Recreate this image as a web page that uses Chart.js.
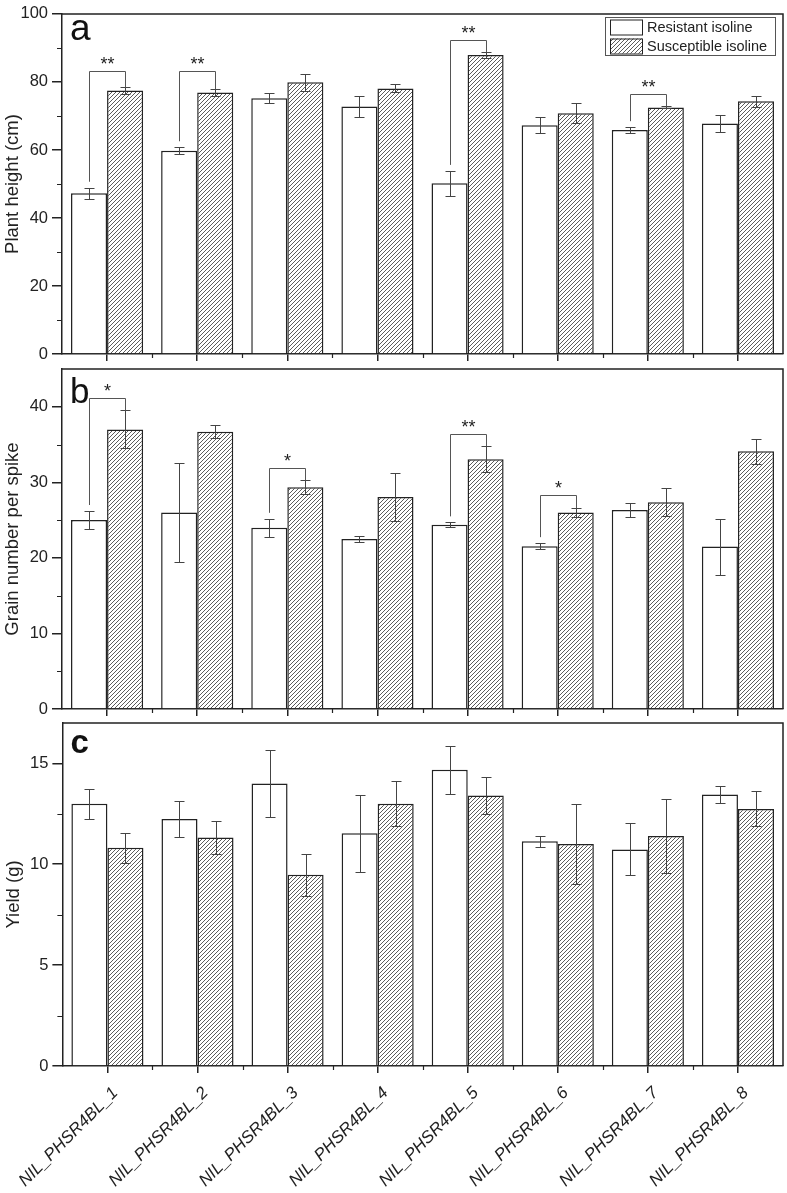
<!DOCTYPE html>
<html><head><meta charset="utf-8">
<script src="https://cdn.jsdelivr.net/npm/chart.js@4.4.0/dist/chart.umd.min.js"></script>
<style>
html,body{margin:0;padding:0;background:#fff;}
#wrap{position:relative;width:787px;height:1193px;overflow:hidden;background:#fff;}
.pane{position:absolute;left:0;width:787px;}
</style></head><body>
<div id="wrap">
  <div class="pane" style="top:0px;height:368px"><canvas id="ca" width="787" height="368"></canvas></div>
  <div class="pane" style="top:355px;height:368px"><canvas id="cb" width="787" height="368"></canvas></div>
  <div class="pane" style="top:709px;height:484px"><canvas id="cc" width="787" height="484"></canvas></div>
</div>
<script>
const categories = ['NIL_PHSR4BL_1','NIL_PHSR4BL_2','NIL_PHSR4BL_3','NIL_PHSR4BL_4','NIL_PHSR4BL_5','NIL_PHSR4BL_6','NIL_PHSR4BL_7','NIL_PHSR4BL_8'];
const seriesNames = ['Resistant isoline','Susceptible isoline'];

// Panel a: plant height (cm)
const heightRes    = [47.3, 59.8, 75.2, 72.8, 50.2, 67.3, 65.9, 67.8];
const heightResErr = [1.6, 1.0, 1.45, 3.1, 3.65, 2.25, 0.8, 2.55];
const heightSus    = [77.5, 76.9, 79.9, 78.1, 87.9, 70.8, 72.5, 74.3];
const heightSusErr = [0.9, 1.0, 2.55, 1.2, 0.8, 3.0, 0.3, 1.7];
const heightSig     = ['**','**','','','**','','**',''];
const heightBracket = [83.2, 83.2, null, null, 92.2, null, 76.4, null];

// Panel b: grain number per spike
const grainRes    = [25.0, 26.0, 24.0, 22.5, 24.4, 21.55, 26.35, 21.5];
const grainResErr = [1.2, 6.55, 1.17, 0.35, 0.3, 0.4, 0.9, 3.7];
const grainSus    = [37.0, 36.7, 29.35, 28.05, 33.05, 26.0, 27.35, 34.1];
const grainSusErr = [2.5, 0.9, 0.9, 3.2, 1.75, 0.6, 1.85, 1.65];
const grainSig     = ['*','','*','','**','*','',''];
const grainBracket = [41.2, null, 31.9, null, 36.4, 28.3, null, null];

// Panel c: yield (g)
const yieldRes    = [12.99, 12.24, 14.0, 11.53, 14.68, 11.14, 10.73, 13.45];
const yieldResErr = [0.74, 0.91, 1.67, 1.9, 1.2, 0.27, 1.29, 0.42];
const yieldSus    = [10.81, 11.32, 9.47, 13.0, 13.4, 11.0, 11.4, 12.74];
const yieldSusErr = [0.73, 0.8, 1.04, 1.12, 0.92, 1.98, 1.83, 0.87];
const yieldSig     = ['','','','','','','',''];
const yieldBracket = [null,null,null,null,null,null,null,null];

const FONT = '"Liberation Sans", Arial, sans-serif';
const DARK = '#222';

function hatchPattern() {
  const c = document.createElement('canvas');
  c.width = 4; c.height = 4;
  const g = c.getContext('2d');
  g.fillStyle = '#fff'; g.fillRect(0,0,4,4);
  g.strokeStyle = '#4a4a4a'; g.lineWidth = 0.9;
  g.beginPath();
  g.moveTo(-1,5); g.lineTo(5,-1);
  g.moveTo(-1,1); g.lineTo(1,-1);
  g.moveTo(3,5); g.lineTo(5,3);
  g.stroke();
  return g.createPattern(c, 'repeat');
}
const HATCH = hatchPattern();

const decor = {
  id: 'decor',
  afterDatasetsDraw(chart, args, o) {
    const ctx = chart.ctx;
    const a = chart.chartArea;
    const xs = chart.scales.x, ys = chart.scales.y;
    ctx.save();
    // frame top/right
    ctx.strokeStyle = DARK; ctx.lineWidth = 1.5;
    ctx.beginPath();
    ctx.moveTo(a.left, a.top); ctx.lineTo(a.right, a.top); ctx.lineTo(a.right, a.bottom);
    ctx.stroke();
    // minor y ticks
    ctx.lineWidth = 1.2;
    ctx.beginPath();
    for (let v = o.minor; v < ys.max; v += o.major) {
      const p = Math.round(ys.getPixelForValue(v)) + 0.5;
      ctx.moveTo(a.left - 5, p); ctx.lineTo(a.left, p);
    }
    // minor x ticks at category boundaries
    const sp = xs.getPixelForValue(1) - xs.getPixelForValue(0);
    for (let i = 1; i < categories.length; i++) {
      const p = Math.round(xs.getPixelForValue(i) - sp/2) + 0.5;
      ctx.moveTo(p, a.bottom); ctx.lineTo(p, a.bottom + 4);
    }
    ctx.stroke();
    // error bars
    const m0 = chart.getDatasetMeta(0), m1 = chart.getDatasetMeta(1);
    const vals = [o.v0, o.v1], errs = [o.e0, o.e1], metas = [m0, m1];
    ctx.strokeStyle = '#444'; ctx.lineWidth = 1;
    ctx.beginPath();
    for (let d = 0; d < 2; d++) {
      metas[d].data.forEach((bar, i) => {
        const x = Math.round(bar.x) + 0.5;
        const hi = Math.round(ys.getPixelForValue(vals[d][i] + errs[d][i])) + 0.5;
        const lo = Math.round(ys.getPixelForValue(vals[d][i] - errs[d][i])) + 0.5;
        ctx.moveTo(x, hi); ctx.lineTo(x, lo);
        ctx.moveTo(x - 5, hi); ctx.lineTo(x + 5, hi);
        ctx.moveTo(x - 5, lo); ctx.lineTo(x + 5, lo);
      });
    }
    ctx.stroke();
    // significance brackets
    ctx.strokeStyle = '#555'; ctx.lineWidth = 1;
    ctx.fillStyle = DARK;
    ctx.font = '18px ' + FONT;
    ctx.textAlign = 'center'; ctx.textBaseline = 'alphabetic';
    o.brk.forEach((top, i) => {
      if (top == null) return;
      const xl = Math.round(m0.data[i].x) + 0.5, xr = Math.round(m1.data[i].x) + 0.5;
      const yl = ys.getPixelForValue(o.v0[i] + o.e0[i]) - 6;
      const yr = ys.getPixelForValue(o.v1[i] + o.e1[i]);
      const yt = Math.round(ys.getPixelForValue(top)) + 0.5;
      ctx.beginPath();
      ctx.moveTo(xl, yl); ctx.lineTo(xl, yt); ctx.lineTo(xr, yt); ctx.lineTo(xr, yr);
      ctx.stroke();
      ctx.fillText(o.sig[i], (xl + xr) / 2, yt - 2);
    });
    // panel letter
    ctx.font = o.letterFont + ' ' + FONT;
    ctx.textAlign = 'left'; ctx.textBaseline = 'alphabetic';
    ctx.fillStyle = '#111';
    ctx.fillText(o.letter, a.left + 8, a.top + o.letterY);
    // legend
    if (o.legend) {
      const lx = 605, ly = 17, lw = 170, lh = 38;
      ctx.strokeStyle = '#555'; ctx.lineWidth = 1;
      ctx.strokeRect(lx + 0.5, ly + 0.5, lw, lh);
      const sw = [[610, 19.5], [610, 38.5]];
      const fills = ['#fff', HATCH];
      ctx.font = '14.5px ' + FONT; ctx.textBaseline = 'middle';
      for (let k = 0; k < 2; k++) {
        ctx.fillStyle = fills[k];
        ctx.fillRect(sw[k][0], sw[k][1], 32, 15);
        ctx.strokeStyle = DARK; ctx.lineWidth = 1;
        ctx.strokeRect(sw[k][0] + 0.5, sw[k][1] + 0.5, 32, 15);
        ctx.fillStyle = DARK;
        ctx.fillText(chart.data.datasets[k].label, 647, sw[k][1] + 8.5);
      }
    }
    ctx.restore();
  }
};

function makePanel(id, cfg) {
  const bottomH = cfg.showLabels ? 127 : 11;
  return new Chart(document.getElementById(id), {
    type: 'bar',
    data: {
      labels: categories,
      datasets: [
        { label: seriesNames[0], data: cfg.v0, backgroundColor: '#fff', borderColor: DARK, borderWidth: 1.5, borderSkipped: 'bottom' },
        { label: seriesNames[1], data: cfg.v1, backgroundColor: HATCH, borderColor: DARK, borderWidth: 1.5, borderSkipped: 'bottom' }
      ]
    },
    options: {
      responsive: false, animation: false, events: [],
      layout: { padding: { left: 0, right: 4, top: 11, bottom: 0 } },
      datasets: { bar: { categoryPercentage: 0.8, barPercentage: 1.0 } },
      plugins: {
        legend: { display: false }, tooltip: { enabled: false },
        decor: { v0: cfg.v0, v1: cfg.v1, e0: cfg.e0, e1: cfg.e1, sig: cfg.sig, brk: cfg.brk,
                 major: cfg.major, minor: cfg.minor, letter: cfg.letter, letterY: cfg.letterY,
                 letterFont: cfg.letterFont, legend: cfg.legend }
      },
      scales: {
        x: {
          offset: true,
          grid: { display: true, offset: false, drawOnChartArea: false, tickLength: 7, color: DARK, lineWidth: 1.5 },
          border: { display: true, color: DARK, width: 1.5 },
          ticks: { display: cfg.showLabels, maxRotation: 45, minRotation: 45, autoSkip: false,
                   font: { family: FONT, size: 17, style: 'italic' }, color: DARK, padding: 10, labelOffset: 8 },
          afterFit: s => { s.height = bottomH; }
        },
        y: {
          min: 0, max: cfg.max,
          grid: { display: true, drawOnChartArea: false, tickLength: 10, color: DARK, lineWidth: 1.5 },
          border: { display: true, color: DARK, width: 1.5 },
          ticks: { stepSize: cfg.major, font: { family: FONT, size: 16.5 }, color: DARK, padding: 4 },
          afterBuildTicks: s => { s.ticks = s.ticks.filter(t => Math.abs(t.value / cfg.major - Math.round(t.value / cfg.major)) < 1e-6); },
          title: { display: true, text: cfg.title, font: { family: FONT, size: 18.5 }, color: DARK, padding: { top: 2, bottom: 0 } },
          afterFit: s => { s.width = 62; }
        }
      }
    },
    plugins: [decor]
  });
}

makePanel('ca', { v0: heightRes, v1: heightSus, e0: heightResErr, e1: heightSusErr, sig: heightSig, brk: heightBracket,
  max: 100, major: 20, minor: 10, title: 'Plant height (cm)', letter: 'a', letterY: 26, letterFont: '37px', legend: true, showLabels: false });
makePanel('cb', { v0: grainRes, v1: grainSus, e0: grainResErr, e1: grainSusErr, sig: grainSig, brk: grainBracket,
  max: 45, major: 10, minor: 5, title: 'Grain number per spike', letter: 'b', letterY: 34, letterFont: '35px', legend: false, showLabels: false });
makePanel('cc', { v0: yieldRes, v1: yieldSus, e0: yieldResErr, e1: yieldSusErr, sig: yieldSig, brk: yieldBracket,
  max: 17, major: 5, minor: 2.5, title: 'Yield (g)', letter: 'c', letterY: 30, letterFont: 'bold 33px', legend: false, showLabels: true });
</script>
</body></html>
